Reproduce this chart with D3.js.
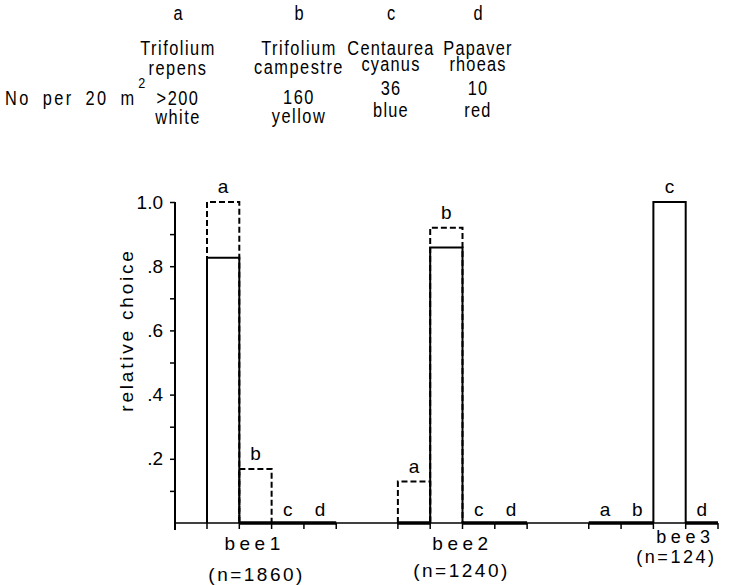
<!DOCTYPE html>
<html><head><meta charset="utf-8">
<script src="https://cdn.jsdelivr.net/npm/d3@7"></script>
<style>
body{margin:0;background:#fff;}
text{font-family:"Liberation Sans",Arial,sans-serif;fill:#000;}
</style></head>
<body><svg id="c" width="734" height="585"></svg>
<script>
const bees = ["bee1","bee2","bee3"];
const beeN = ["(n=1860)","(n=1240)","(n=124)"];
const flowers = ["a","b","c","d"];
const species = [["Trifolium","repens"],["Trifolium","campestre"],["Centaurea","cyanus"],["Papaver","rhoeas"]];
const abundance = [">200","160","36","10"];
const colours = ["white","yellow","blue","red"];
// solid bars: relative choice
const solidValues = [[0.826,0,0,0],[0,0.858,0,0],[0,0,1.0,0]];
// dashed bars
const dashedValues = [[1.0,0.168,null,null],[0.129,0.92,null,null],[null,null,null,null]];
const yTicks = [0.1,0.2,0.3,0.4,0.5,0.6,0.7,0.8,0.9,1.0];
const yTickLabels = ["",".2","",".4","",".6","",".8","","1.0"];

const svg = d3.select("#c");
const y = d3.scaleLinear().domain([0,1]).range([523,202]);
const xBee = d3.scaleBand().domain(bees).range([207,718]).paddingInner(0.323).paddingOuter(0);
const xF = d3.scaleBand().domain(flowers).range([0,xBee.bandwidth()]).padding(0);

// narrow-ish header text helper
const SX = 0.84;
function htext(g, x, yy, str, size, ls, anchor){
  return g.append("text").attr("transform",`translate(${x},${yy}) scale(${SX},1)`)
    .attr("text-anchor",anchor||"middle").style("font-size",size+"px")
    .style("letter-spacing",(ls/SX)+"px").text(str);
}
const hdr = svg.append("g");
const colX = [178,299,391,478];
const rows = [[20,55,75,105,124],[20,55,74,104,123],[20,55,71,95,117],[20,55,71,95,117]];
flowers.forEach((f,i)=>{
  const ls = i>=2 ? 1.2 : 1.5;
  htext(hdr, colX[i], rows[i][0], f, 19.5, 0);
  htext(hdr, colX[i], rows[i][1], species[i][0], 19.5, ls);
  htext(hdr, colX[i], rows[i][2], species[i][1], 19.5, ls);
  htext(hdr, colX[i], rows[i][3], abundance[i], 19.5, ls);
  htext(hdr, colX[i], rows[i][4], colours[i], 19.5, ls);
});
const np = hdr.append("text").attr("transform",`translate(5,105) scale(${SX},1)`)
  .style("font-size","19.5px").style("letter-spacing",(2.4/SX)+"px").style("word-spacing",(5/SX)+"px");
np.append("tspan").text("No per 20 m");
np.append("tspan").attr("dx",2).attr("dy",-17).style("font-size","15px").text("2");

// y axis
const yAxis = d3.axisLeft(y).tickValues(yTicks).tickSize(5).tickFormat((d,i)=>yTickLabels[i]).tickPadding(7);
const ga = svg.append("g").attr("transform","translate(175,0)").call(yAxis);
ga.select(".domain").remove();
ga.selectAll(".tick line").attr("stroke","#000").attr("stroke-width",1.5);
ga.selectAll(".tick text").style("font-size","19px").style("font-family","Liberation Sans, Arial, sans-serif").attr("fill","#000");
svg.append("line").attr("x1",175).attr("x2",175).attr("y1",y(1)).attr("y2",y(0)+7).attr("stroke","#000").attr("stroke-width",2);

svg.append("text").attr("transform","translate(133,330) rotate(-90)").attr("text-anchor","middle")
  .style("font-size","19px").style("letter-spacing","2.8px").text("relative choice");

// baseline
const xEnd = xBee("bee3")+xBee.bandwidth();
svg.append("line").attr("x1",175).attr("x2",xEnd).attr("y1",y(0)).attr("y2",y(0)).attr("stroke","#000").attr("stroke-width",1.5);
// ticks below baseline at slot boundaries
bees.forEach(b=>{
  flowers.forEach(f=>{
    const x0 = xBee(b)+xF(f);
    svg.append("line").attr("x1",x0).attr("x2",x0).attr("y1",y(0)).attr("y2",y(0)+6).attr("stroke","#000").attr("stroke-width",1.5);
  });
  const xe = xBee(b)+xBee.bandwidth();
  svg.append("line").attr("x1",xe).attr("x2",xe).attr("y1",y(0)).attr("y2",y(0)+6).attr("stroke","#000").attr("stroke-width",1.5);
});

const bw = xF.bandwidth();
bees.forEach((b,bi)=>{
  flowers.forEach((f,fi)=>{
    const x0 = xBee(b)+xF(f);
    const dv = dashedValues[bi][fi];
    const sv = solidValues[bi][fi];
    if(dv!==null){
      svg.append("path").attr("d",`M${x0},${y(0)}V${y(dv)}H${x0+bw}V${y(0)}`)
        .attr("fill","none").attr("stroke","#000").attr("stroke-width",2).attr("stroke-dasharray","6,3");
    }
    if(sv>0){
      svg.append("path").attr("d",`M${x0},${y(0)}V${y(sv)}H${x0+bw}V${y(0)}`)
        .attr("fill","none").attr("stroke","#000").attr("stroke-width",2);
    } else {
      svg.append("line").attr("x1",x0).attr("x2",x0+bw).attr("y1",y(0)).attr("y2",y(0)).attr("stroke","#000").attr("stroke-width",3.5);
    }
    const top = Math.max(sv, dv===null?0:dv);
    svg.append("text").attr("x",x0+bw/2).attr("y",top>0? y(top)-9 : y(0)-7).attr("text-anchor","middle")
      .style("font-size","19px").text(f);
  });
});

// bee labels
const lblOff = [[-17,-15,550,581,19],[0,-1,550,577,19],[32,23,543,563,18]];
bees.forEach((b,bi)=>{
  const cx = xBee(b)+xBee.bandwidth()/2;
  svg.append("text").attr("x",cx+lblOff[bi][0]).attr("y",lblOff[bi][2]).attr("text-anchor","middle")
    .style("font-size",lblOff[bi][4]+"px").style("letter-spacing","4.5px").text(b);
  svg.append("text").attr("x",cx+lblOff[bi][1]).attr("y",lblOff[bi][3]).attr("text-anchor","middle")
    .style("font-size",lblOff[bi][4]+"px").style("letter-spacing","2.5px").text(beeN[bi]);
});
</script></body></html>
